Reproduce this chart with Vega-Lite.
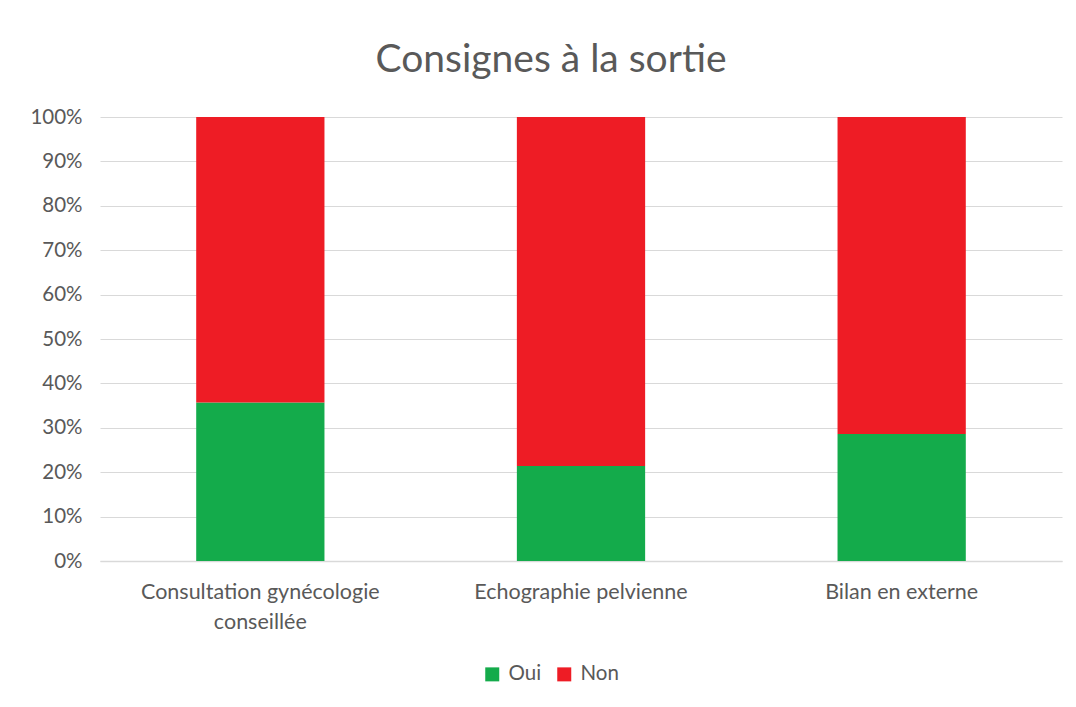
{
  "$schema": "https://vega.github.io/schema/vega-lite/v6.json",
  "width": 962,
  "height": 444,
  "autosize": {"type": "none"},
  "padding": {"left": 100, "top": 117, "right": 14, "bottom": 146},
  "background": "white",
  "title": {
    "text": "Consignes à la sortie",
    "font": "Lato",
    "fontSize": 39,
    "fontWeight": "normal",
    "color": "#595959",
    "anchor": "middle",
    "offset": 27,
    "dx": -30
  },
  "data": {
    "values": [
      {"categorie": "Consultation gynécologie conseillée", "reponse": "Oui", "part": 0.357},
      {"categorie": "Consultation gynécologie conseillée", "reponse": "Non", "part": 0.643},
      {"categorie": "Echographie pelvienne", "reponse": "Oui", "part": 0.214},
      {"categorie": "Echographie pelvienne", "reponse": "Non", "part": 0.786},
      {"categorie": "Bilan en externe", "reponse": "Oui", "part": 0.286},
      {"categorie": "Bilan en externe", "reponse": "Non", "part": 0.714}
    ]
  },
  "mark": {"type": "bar"},
  "encoding": {
    "x": {
      "field": "categorie",
      "type": "nominal",
      "sort": ["Consultation gynécologie conseillée", "Echographie pelvienne", "Bilan en externe"],
      "scale": {"paddingInner": 0.6, "paddingOuter": 0.3},
      "axis": {
        "title": null,
        "labelAngle": 0,
        "labelFont": "Lato",
        "labelFontSize": 21.5,
        "labelColor": "#595959",
        "labelPadding": 20,
        "labelLineHeight": 30,
        "labelLimit": 400,
        "labelExpr": "datum.value == 'Consultation gynécologie conseillée' ? ['Consultation gynécologie', 'conseillée'] : datum.value",
        "ticks": false,
        "domainColor": "#d9d9d9",
        "domainWidth": 1.5,
        "grid": false
      }
    },
    "y": {
      "field": "part",
      "type": "quantitative",
      "stack": "normalize",
      "scale": {"domain": [0, 1]},
      "axis": {
        "title": null,
        "format": ".0%",
        "values": [0, 0.1, 0.2, 0.3, 0.4, 0.5, 0.6, 0.7, 0.8, 0.9, 1],
        "labelFont": "Lato",
        "labelFontSize": 20.5,
        "labelColor": "#595959",
        "labelPadding": 18,
        "ticks": false,
        "domain": false,
        "gridColor": "#d9d9d9",
        "gridWidth": 1.2
      }
    },
    "color": {
      "field": "reponse",
      "type": "nominal",
      "scale": {"domain": ["Oui", "Non"], "range": ["#14ab4b", "#ee1c25"]},
      "legend": {
        "title": null,
        "orient": "none",
        "legendX": 382,
        "legendY": 547,
        "direction": "horizontal",
        "symbolType": "square",
        "symbolSize": 196,
        "symbolStrokeWidth": 0,
        "labelFont": "Lato",
        "labelFontSize": 20.5,
        "labelColor": "#595959",
        "labelOffset": 6,
        "columnPadding": 12
      }
    },
    "order": {"field": "reponse", "sort": "descending"}
  },
  "config": {"view": {"stroke": null}}
}
